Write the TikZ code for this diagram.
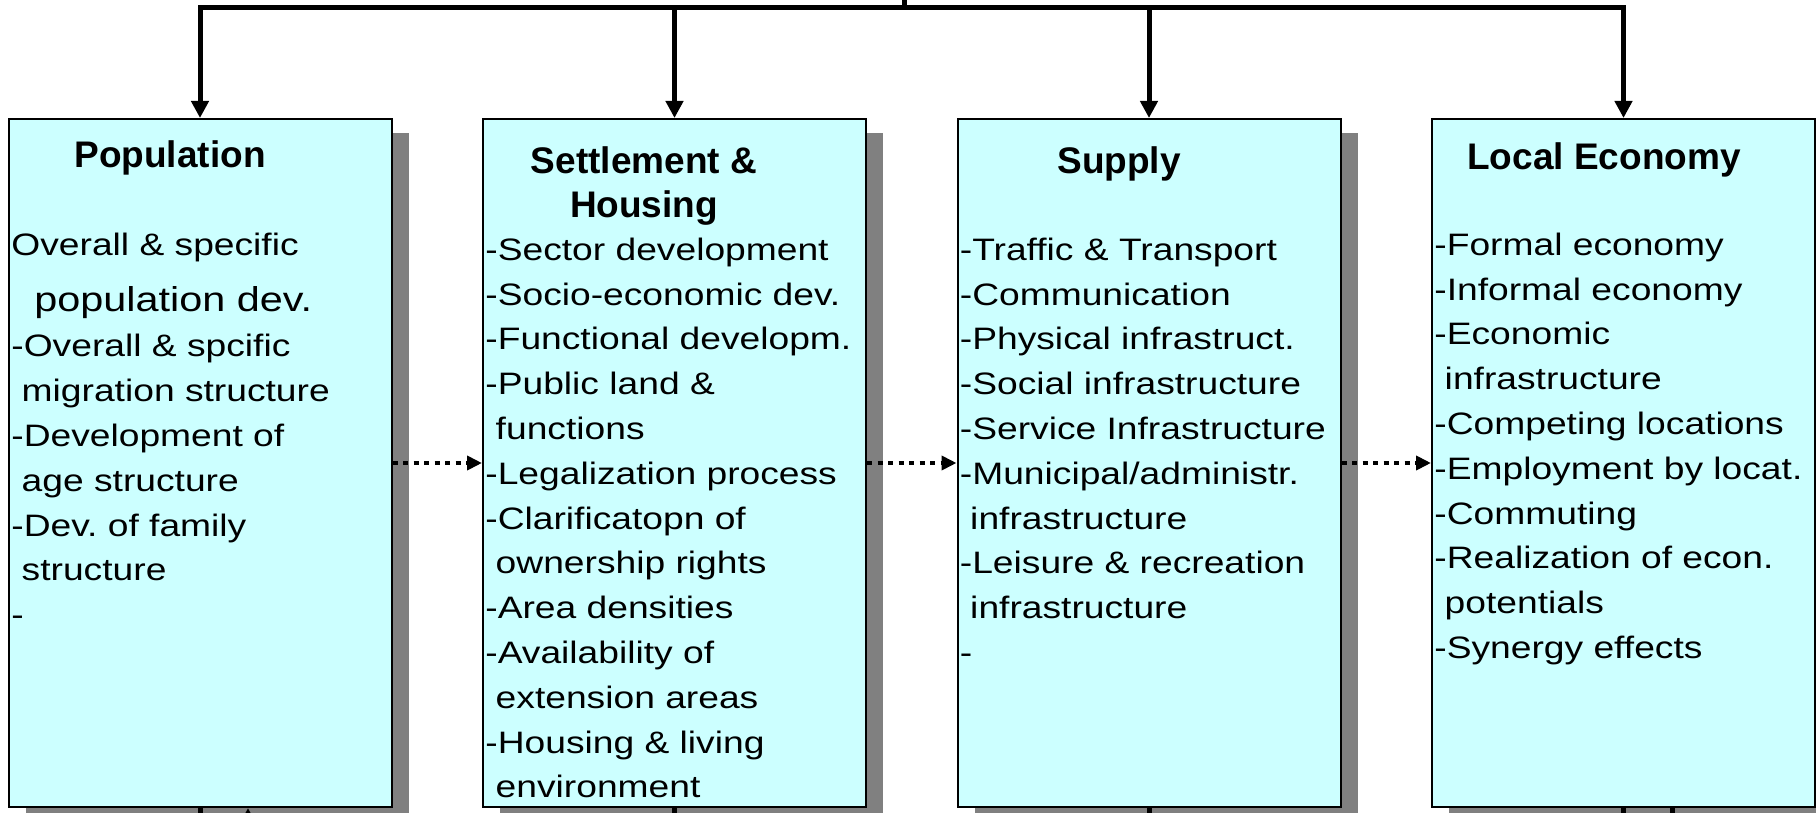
\documentclass[tikz,border=0pt]{standalone}
\usepackage{fontspec}
\setmainfont{Liberation Sans}
\newfontfamily\bodyfont{Liberation Sans}[FakeStretch=1.2]
\usepackage{tikz}
\usetikzlibrary{arrows.meta,shadows}
\definecolor{boxcyan}{HTML}{CCFFFF}
\newcommand{\ldsp}{\mbox{}\ }
\frenchspacing

\begin{document}
\begin{tikzpicture}[x=0.5pt,y=0.5pt]
			\tikzstyle{every node}+=[inner sep=0pt]
			\tikzstyle{panel}=[draw=black,line width=1pt,fill=boxcyan,minimum width=191.5pt,minimum height=344pt,drop shadow={shadow xshift=8.5pt,shadow yshift=-7.25pt,fill=gray,opacity=1}]
			\tikzstyle{headtext}=[font=\fontsize{18.5pt}{22pt}\selectfont\bfseries,align=center,anchor=north]
			\tikzstyle{bodytext}=[font=\bodyfont\fontsize{15.5pt}{22.4pt}\selectfont,align=left,anchor=north west]
			\tikzstyle{trunk}=[line width=2.5pt]
			\tikzstyle{feed}=[trunk,-{Triangle[length=8.5pt,width=8.5pt]}]
			\tikzstyle{flow}=[line width=2pt,dash pattern=on 2.5pt off 2.75pt,-{Triangle[length=7.5pt,width=7pt]}]
			\useasboundingbox (0,0) rectangle (1816,-813);
			\node [panel] (pop) at (200,-463) {};
			\node [panel] (set) at (674.5,-463) {};
			\node [panel] (sup) at (1149,-463) {};
			\node [panel] (loc) at (1623.5,-463) {};
			\node [headtext] (popH) at (170,-140) {Population};
			\node [headtext] (setH) at (644,-146.5) {Settlement \&\\Housing};
			\node [headtext] (supH) at (1119,-146) {Supply};
			\node [headtext] (locH) at (1604,-142) {Local Economy};
			\node [bodytext] (popB) at (11,-232.5) {Overall \& specific\\[5.5pt]
				{\fontsize{17.25pt}{22.4pt}\selectfont\ldsp\ population dev.}\\[0.5pt]
				-Overall \& spcific\\
				\ldsp migration structure\\
				-Development of\\
				\ldsp age structure\\
				-Dev. of family\\
				\ldsp structure\\
				-};
			\node [bodytext] (setB) at (485,-237.5) {-Sector development\\
				-Socio-economic dev.\\
				-Functional developm.\\
				-Public land \&\\
				\ldsp functions\\
				-Legalization process\\
				-Clarificatopn of\\
				\ldsp ownership rights\\
				-Area densities\\
				-Availability of\\
				\ldsp extension areas\\
				-Housing \& living\\
				\ldsp environment};
			\node [bodytext] (supB) at (959.5,-237.5) {-Traffic \& Transport\\
				-Communication\\
				-Physical infrastruct.\\
				-Social infrastructure\\
				-Service Infrastructure\\
				-Municipal/administr.\\
				\ldsp infrastructure\\
				-Leisure \& recreation\\
				\ldsp infrastructure\\
				-};
			\node [bodytext] (locB) at (1434,-232.5) {-Formal economy\\
				-Informal economy\\
				-Economic\\
				\ldsp infrastructure\\
				-Competing locations\\
				-Employment by locat.\\
				-Commuting\\
				-Realization of econ.\\
				\ldsp potentials\\
				-Synergy effects};
			\coordinate (feedtop) at (904,0);
			\coordinate (hub) at (904,-8);
			\coordinate (floor) at (904,-830);
			\coordinate (popret) at (248,-830);
			\coordinate (locret) at (1672,-830);
			\draw [trunk] (feedtop) -- (hub);
			\draw [trunk,{Triangle[length=8.5pt,width=8.5pt]}-{Triangle[length=8.5pt,width=8.5pt]}] (pop.north) -- (pop.north |- hub) -- (loc.north |- hub) -- (loc.north);
			\draw [feed] (set.north |- hub) -- (set.north);
			\draw [feed] (sup.north |- hub) -- (sup.north);
			\draw [flow] (pop.east) -- (set.west);
			\draw [flow] (set.east) -- (sup.west);
			\draw [flow] (sup.east) -- (loc.west);
			\draw [trunk] (pop.south) -- (pop.south |- floor);
			\draw [feed] (popret) -- (popret |- pop.south);
			\draw [trunk] (set.south) -- (set.south |- floor);
			\draw [trunk] (sup.south) -- (sup.south |- floor);
			\draw [trunk] (loc.south) -- (loc.south |- floor);
			\draw [trunk] (locret) -- (locret |- loc.south);
\end{tikzpicture}
\end{document}
